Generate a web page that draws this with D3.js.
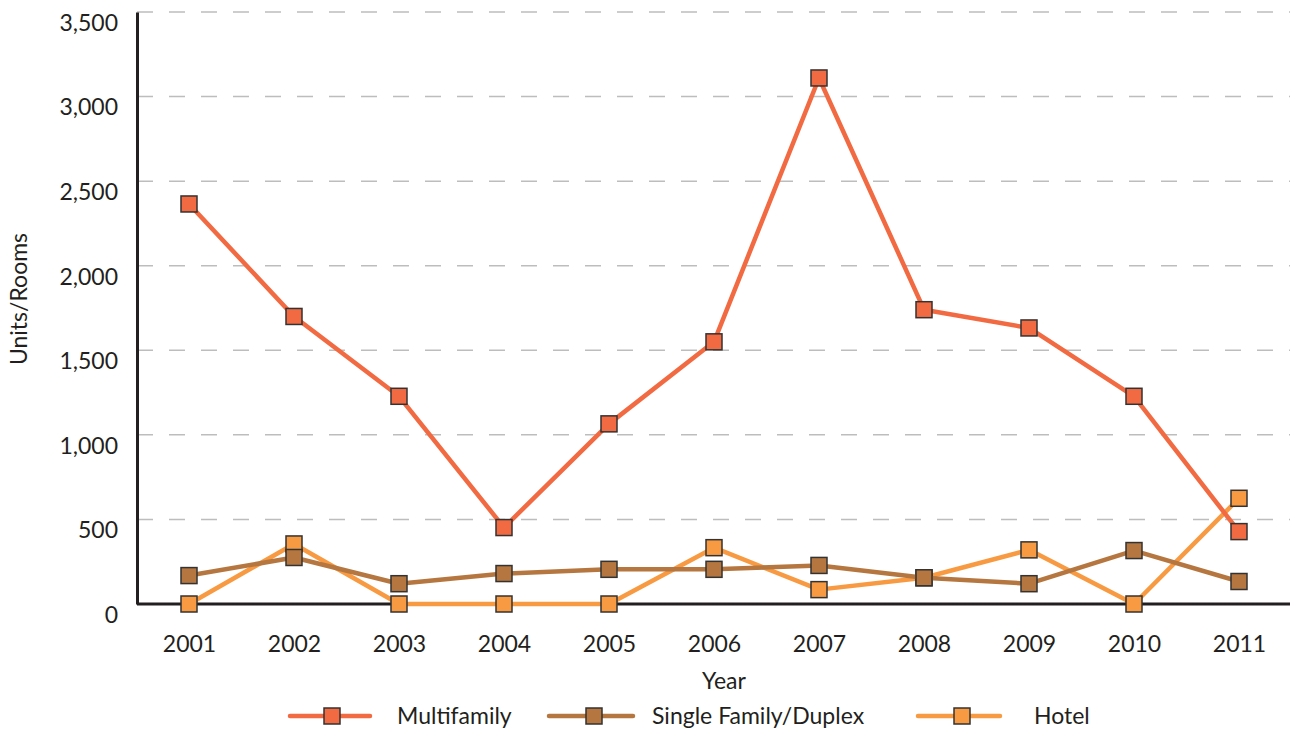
<!DOCTYPE html>
<html><head><meta charset="utf-8">
<script src="https://cdn.jsdelivr.net/npm/d3@7"></script>
<style>body{margin:0;background:#fff}svg text{font-family:Lato,"Open Sans",sans-serif;fill:#231f20}</style>
</head><body><svg id="c" width="1291" height="731"></svg>
<script>
const years = ["2001","2002","2003","2004","2005","2006","2007","2008","2009","2010","2011"];
const multifamily = [2365,1700,1228,452,1065,1550,3110,1740,1632,1228,428];
const singleFamily = [168,275,120,180,205,205,228,155,120,316,133];
const hotel = [0,355,0,0,0,333,85,155,320,0,625];
const yTicks = [0,500,1000,1500,2000,2500,3000,3500];
const seriesNames = ["Multifamily","Single Family/Duplex","Hotel"];
const colors = ["#F26A41","#B5773F","#F89A42"];

const svg = d3.select("#c");
const pL=137, pR=1290, pT=12, pB=604;
const x = d3.scalePoint().domain(years).range([189,1239]);
const y = d3.scaleLinear().domain([0,3500]).range([pB,pT]);

// gridlines
svg.append("g").selectAll("line").data(yTicks.slice(1)).join("line")
  .attr("x1",pL).attr("x2",pR).attr("y1",d=>y(d)).attr("y2",d=>y(d))
  .attr("stroke","#bdbdbd").attr("stroke-width",1.5).attr("stroke-dasharray","16,16");

// y axis
const ya = svg.append("g").attr("transform",`translate(${pL},0)`)
  .call(d3.axisLeft(y).tickValues(yTicks).tickFormat(d3.format(",")).tickSize(0).tickPadding(19));
ya.select(".domain").attr("stroke","#231f20").attr("stroke-width",3);
ya.selectAll("text").attr("font-size",23).attr("dy","0.8em");

// x axis
const xa = svg.append("g").attr("transform",`translate(0,${pB})`)
  .call(d3.axisBottom(x).tickSize(0).tickPadding(32));
xa.select(".domain").remove();
svg.append("line").attr("x1",pL).attr("x2",pR).attr("y1",pB).attr("y2",pB)
  .attr("stroke","#231f20").attr("stroke-width",3);
xa.selectAll("text").attr("font-size",23);

svg.append("text").attr("x",724).attr("y",689).attr("text-anchor","middle").attr("font-size",23).text("Year");
svg.append("text").attr("transform","translate(27,299) rotate(-90)").attr("text-anchor","middle").attr("font-size",23).text("Units/Rooms");

const data = [multifamily, singleFamily, hotel];
const line = d3.line().x((d,i)=>x(years[i])).y(d=>y(d));
const order = [2,1,0];
order.forEach(k=>{
  const g = svg.append("g");
  g.append("path").datum(data[k]).attr("d",line).attr("fill","none")
    .attr("stroke",colors[k]).attr("stroke-width",4.5).attr("stroke-linejoin","round");
  g.selectAll("rect").data(data[k]).join("rect")
    .attr("x",(d,i)=>x(years[i])-8).attr("y",d=>y(d)-8).attr("width",16).attr("height",16)
    .attr("fill",colors[k]).attr("stroke","#333").attr("stroke-width",1.5);
});

// legend
const leg = [{x1:290,x2:370,m:332,t:397},{x1:549,x2:633,m:594,t:652},{x1:918,x2:1000,m:962,t:1034}];
leg.forEach((L,k)=>{
  const ly=716;
  svg.append("line").attr("x1",L.x1).attr("x2",L.x2).attr("y1",ly).attr("y2",ly)
    .attr("stroke",colors[k]).attr("stroke-width",4.5).attr("stroke-linecap","round");
  svg.append("rect").attr("x",L.m-8).attr("y",ly-8).attr("width",16).attr("height",16)
    .attr("fill",colors[k]).attr("stroke","#333").attr("stroke-width",1.5);
  svg.append("text").attr("x",L.t).attr("y",ly).attr("dy","0.35em").attr("font-size",23).text(seriesNames[k]);
});
</script></body></html>
